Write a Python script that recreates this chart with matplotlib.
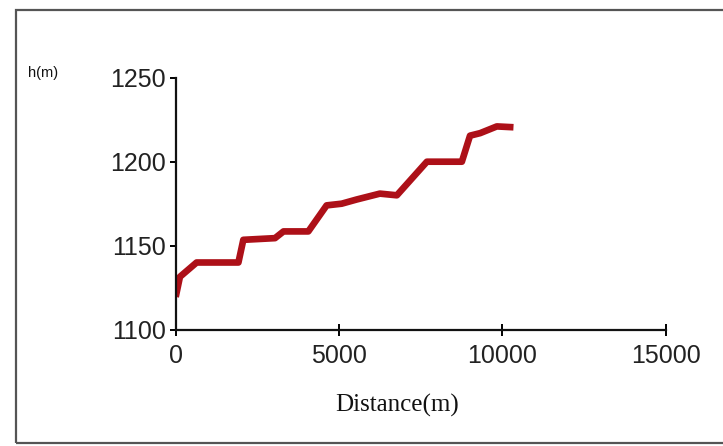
import matplotlib.pyplot as plt
from matplotlib.patches import Rectangle

# elevation profile
distance = [0, 130, 640, 1920, 2070, 3040, 3300, 4060, 4620, 5080, 5540,
            6250, 6770, 7690, 8760, 9010, 9320, 9830, 10340]
height = [1119.5, 1131.5, 1140, 1140, 1153.5, 1154.5, 1158.5, 1158.5,
          1174, 1175, 1177.5, 1181, 1180, 1200, 1200, 1215.5, 1217,
          1221, 1220.5]
x_ticks = [0, 5000, 10000, 15000]
y_ticks = [1100, 1150, 1200, 1250]

plt.rcParams['font.family'] = ['Liberation Sans', 'DejaVu Sans']

fig = plt.figure(figsize=(7.23, 4.46), dpi=100)
ax = fig.add_axes([175.7 / 723, 1 - 329.7 / 446, 490 / 723, 252 / 446])

ax.plot(distance, height, color='#ad1018', lw=4.8, solid_joinstyle='round',
        solid_capstyle='butt')

ax.set_xlim(0, 15000)
ax.set_ylim(1100, 1250)
ax.set_xticks(x_ticks)
ax.set_yticks(y_ticks)
ax.spines['top'].set_visible(False)
ax.spines['right'].set_visible(False)
for s in ['left', 'bottom']:
    ax.spines[s].set_linewidth(1.6)
    ax.spines[s].set_color('#111111')
ax.tick_params(axis='x', direction='inout', length=9, width=1.4, pad=6,
               labelsize=18, labelcolor='#222222')
ax.tick_params(axis='y', direction='out', length=4, width=1.4, pad=3,
               labelsize=18, labelcolor='#222222')

fig.text(397 / 723, 1 - 405 / 446, 'Distance(m)', family='Liberation Serif',
         fontsize=18, ha='center', va='center', color='#111111')
fig.text(28 / 723, 1 - 73 / 446, 'h(m)', fontsize=10.5, ha='left',
         va='center', color='#111111')

# outer grey frame
fig.patches.append(Rectangle((16 / 723, 1 - 443 / 446), 720 / 723, 433 / 446,
                             transform=fig.transFigure, fill=False,
                             edgecolor='#555555', lw=1.6))

fig.savefig('out.png', dpi=100)
